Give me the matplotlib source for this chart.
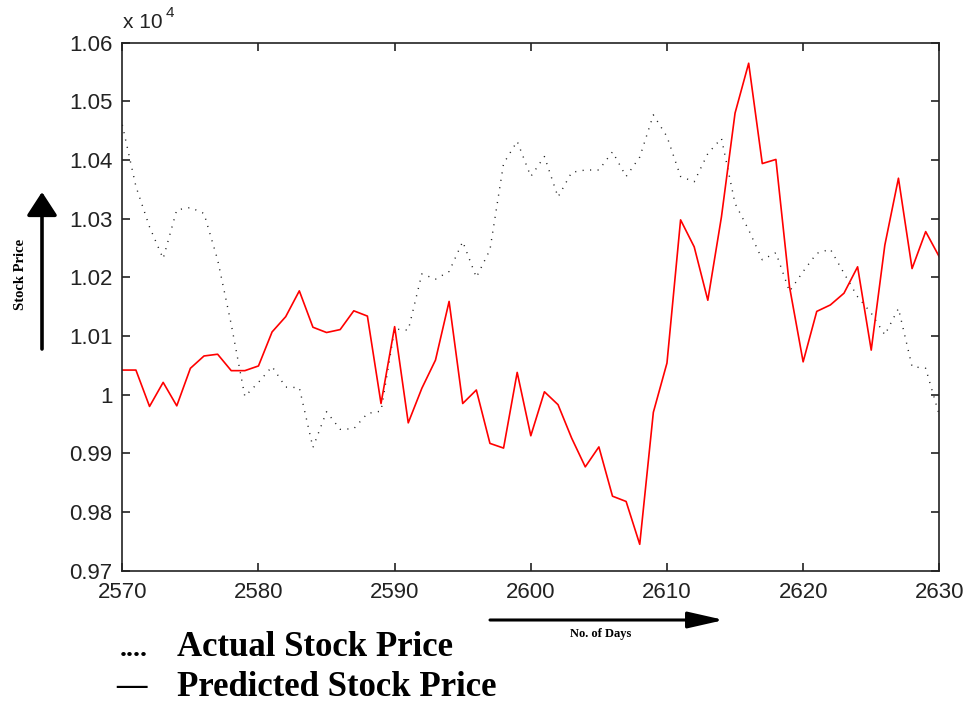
import numpy as np
import matplotlib
matplotlib.use("Agg")
import matplotlib.pyplot as plt

# Data (prices in units of 10^4)
days = list(range(2570, 2631))

actual = [1.0460, 1.0355, 1.0286, 1.0232, 1.0315, 1.0319, 1.0309, 1.0230, 1.0120, 0.9997,
          1.0021, 1.0048, 1.0013, 1.0012, 0.9910, 0.9971, 0.9941, 0.9942, 0.9968, 0.9972,
          1.0112, 1.0110, 1.0206, 1.0197, 1.0210, 1.0261, 1.0200, 1.0247, 1.0394, 1.0432,
          1.0372, 1.0406, 1.0337, 1.0379, 1.0383, 1.0383, 1.0414, 1.0372, 1.0405, 1.0477,
          1.0440, 1.0372, 1.0363, 1.0411, 1.0437, 1.0326, 1.0281, 1.0230, 1.0242, 1.0176,
          1.0210, 1.0241, 1.0248, 1.0207, 1.0167, 1.0139, 1.0102, 1.0147, 1.0048, 1.0045,
          0.9965]

predicted = [1.0042, 1.0042, 0.9980, 1.0021, 0.9981, 1.0045, 1.0066, 1.0069, 1.0041, 1.0041,
             1.0049, 1.0107, 1.0133, 1.0177, 1.0115, 1.0106, 1.0111, 1.0143, 1.0134, 0.9985,
             1.0116, 0.9952, 1.0011, 1.0059, 1.0159, 0.9985, 1.0008, 0.9917, 0.9909, 1.0038,
             0.9930, 1.0005, 0.9983, 0.9926, 0.9877, 0.9911, 0.9827, 0.9818, 0.9745, 0.9970,
             1.0054, 1.0298, 1.0252, 1.0161, 1.0303, 1.0480, 1.0565, 1.0394, 1.0401, 1.0184,
             1.0056, 1.0142, 1.0153, 1.0173, 1.0218, 1.0076, 1.0255, 1.0369, 1.0215, 1.0278,
             1.0235]

xticks = [2570, 2580, 2590, 2600, 2610, 2620, 2630]
yticks = [0.97, 0.98, 0.99, 1.00, 1.01, 1.02, 1.03, 1.04, 1.05, 1.06]
ytick_labels = ["0.97", "0.98", "0.99", "1", "1.01", "1.02", "1.03", "1.04", "1.05", "1.06"]

W, H = 967, 704
fig = plt.figure(figsize=(W / 100, H / 100), dpi=100)
ax = fig.add_axes([122.3 / W, 1 - 570.7 / H, (939.3 - 122.3) / W, (570.7 - 42.7) / H])

ax.plot(days, actual, color="#222222", lw=1.0, linestyle=(0, (0.8, 4.6)))
ax.plot(days, predicted, color="#ff0000", lw=1.2)

ax.set_xlim(2570, 2630)
ax.set_ylim(0.97, 1.06)
ax.set_xticks(xticks)
ax.set_yticks(yticks)
ax.set_yticklabels(ytick_labels)

for lab in ax.get_xticklabels() + ax.get_yticklabels():
    lab.set_fontfamily("Liberation Sans")
    lab.set_fontsize(16)
    lab.set_color("#222222")

ax.tick_params(direction="in", top=True, right=True, length=6, width=1.2, color="#222222")
ax.tick_params(axis="y", pad=7)
ax.tick_params(axis="x", pad=8)
for s in ax.spines.values():
    s.set_linewidth(1.2)
    s.set_color("#222222")


def fx(px):
    return px / W


def fy(py):
    return 1 - py / H


# exponent label
fig.text(fx(123), fy(22), "x 10", fontsize=15, family="Liberation Sans", color="#222222", va="center")
fig.text(fx(166), fy(13), "4", fontsize=11, family="Liberation Sans", color="#222222", va="center")

# vertical arrow + label
ax.annotate("", xy=(fx(42), fy(192)), xytext=(fx(42), fy(349)), xycoords="figure fraction",
            textcoords="figure fraction",
            arrowprops=dict(arrowstyle="-|>,head_length=0.6,head_width=0.39", lw=2.6, color="black",
                            mutation_scale=24, shrinkA=0, shrinkB=0))
fig.text(fx(20), fy(274), "Stock Price", rotation=90, fontsize=10.5, family="Liberation Serif",
         weight="bold", ha="center", va="center")

# horizontal arrow + label
ax.annotate("", xy=(fx(724), fy(620)), xytext=(fx(490), fy(620)), xycoords="figure fraction",
            textcoords="figure fraction",
            arrowprops=dict(arrowstyle="-|>,head_length=1.1,head_width=0.25", lw=2.2, color="black",
                            mutation_scale=20, shrinkA=0, shrinkB=0))
fig.text(fx(601), fy(634), "No. of Days", fontsize=9, family="Liberation Serif",
         weight="bold", ha="center", va="center")

# legend-like text
fig.text(fx(120), fy(649), "....", fontsize=20, family="Liberation Serif", weight="bold",
         ha="left", va="center")
fig.text(fx(177), fy(648), "Actual Stock Price", fontsize=25, family="Liberation Serif",
         weight="bold", ha="left", va="center")
fig.text(fx(116), fy(686), "\u2014", fontsize=22, family="Liberation Serif", weight="bold",
         ha="left", va="center")
fig.text(fx(177), fy(688), "Predicted Stock Price", fontsize=25, family="Liberation Serif",
         weight="bold", ha="left", va="center")

fig.savefig("out.png", dpi=100)
